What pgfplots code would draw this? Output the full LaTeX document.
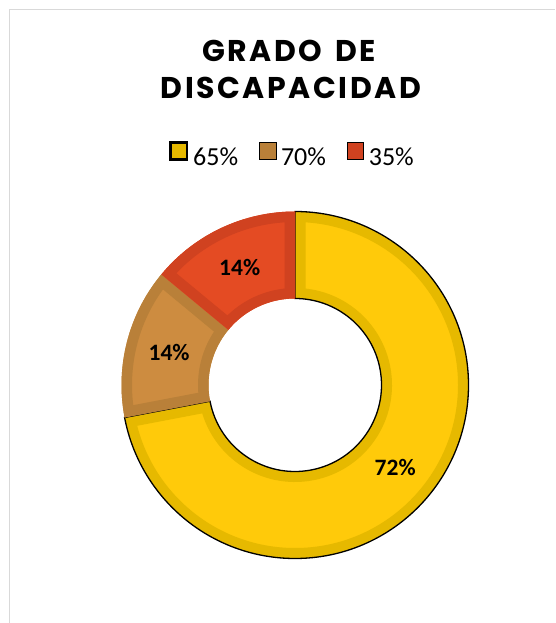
\documentclass[border=0pt]{standalone}
\usepackage{fontspec}
\usepackage{pgfplots}
\usepackage{pgfplotstable}
\pgfplotsset{compat=1.18}
\setmainfont{Carlito}
\newfontfamily\titlefont[LetterSpace=8.5]{Poppins}

\definecolor{ylDark}{HTML}{E6B900}
\definecolor{ylLight}{HTML}{FFCA0A}
\definecolor{brDark}{HTML}{B98039}
\definecolor{brLight}{HTML}{CD8C40}
\definecolor{rdDark}{HTML}{D04220}
\definecolor{rdLight}{HTML}{E44B23}
\definecolor{frame}{HTML}{D9D9D9}

% share of each category (%), clockwise from 12 o'clock
\pgfplotstableread{
label value dark   light   outline
65    72    ylDark ylLight 1.3
70    14    brDark brLight 0
35    14    rdDark rdLight 0
}\slices

\def\Ro{173.5pt}
\def\Ri{86.5pt}
\newcommand\ring[2]{(#1:\Ro) arc[start angle=#1,end angle=#2,radius=\Ro]
  -- (#2:\Ri) arc[start angle=#2,end angle=#1,radius=\Ri] -- cycle}

\begin{document}
\begin{tikzpicture}
\begin{axis}[
    scale only axis,
    width=555pt, height=623pt,
    xmin=0, xmax=555, ymin=0, ymax=623,
    hide axis,
    clip=false,
    legend columns=3,
    legend style={
        at={(axis cs:291.5,469)}, anchor=center,
        draw=none, fill=none, inner sep=0pt,
        font=\fontsize{26}{27}\selectfont,
        nodes={inner sep=0pt},
        /tikz/every odd column/.append style={column sep=5pt},
        /tikz/every even column/.append style={column sep=21pt},
    },
    legend image code/.code={\draw[#1] (0pt,-2.5pt) rectangle (16.5pt,14.5pt);},
]
    \addlegendimage{fill=ylDark, draw=black, line width=2.5pt}
    \addlegendimage{fill=brDark, draw=none}
    \addlegendimage{fill=rdDark, draw=none}
    \legend{65\%, 70\%, 35\%}

    \pgfplotsextra{
        % chart frame
        \draw[frame, line width=1.5pt] (axis cs:9.5,0) -- (axis cs:9.5,613.5) -- (axis cs:555,613.5);
        % title
        \node[anchor=base] at (axis cs:289,561)
            {\titlefont\bfseries\fontsize{30}{31}\selectfont GRADO\hspace{0.42em}DE};
        \node[anchor=base] at (axis cs:291,524.5)
            {\titlefont\bfseries\fontsize{30}{31}\selectfont DISCAPACIDAD};
        % donut
        \xdef\astart{90}
        \foreach \i in {0,1,2}{
            \pgfplotstablegetelem{\i}{value}\of\slices \edef\val{\pgfplotsretval}
            \pgfplotstablegetelem{\i}{dark}\of\slices \edef\dk{\pgfplotsretval}
            \pgfplotstablegetelem{\i}{light}\of\slices \edef\lt{\pgfplotsretval}
            \pgfplotstablegetelem{\i}{outline}\of\slices \edef\ol{\pgfplotsretval}
            \pgfmathsetmacro\aend{\astart-3.6*\val}
            \pgfmathsetmacro\amid{(\astart+\aend)/2}
            \begin{scope}[shift={(axis cs:295,238)}]
                \fill[\lt] \ring{\astart}{\aend};
                \begin{scope}
                    \clip \ring{\astart}{\aend};
                    \draw[\dk, line width=21pt] \ring{\astart}{\aend};
                \end{scope}
                \ifdim\ol pt>0pt
                    \draw[black, line width=\ol pt] \ring{\astart}{\aend};
                \fi
                \node[font=\bfseries\fontsize{23.5}{24}\selectfont] at (\amid:130pt) {\val\%};
            \end{scope}
            \xdef\astart{\aend}
        }
    }
\end{axis}
\pgfresetboundingbox
\path (0,0) rectangle (555pt,623pt);
\end{tikzpicture}
\end{document}
